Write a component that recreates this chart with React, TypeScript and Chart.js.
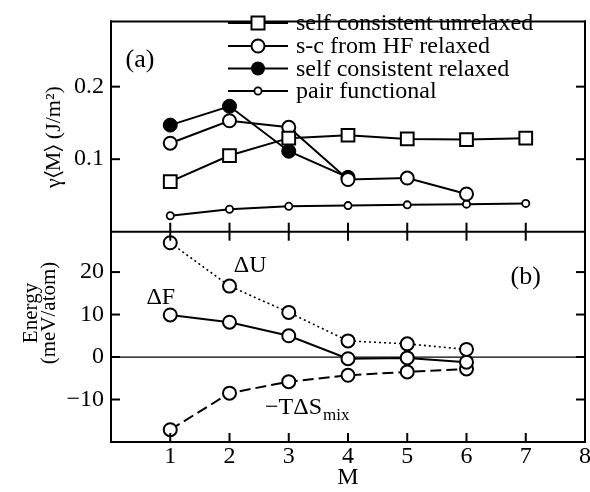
import React, { useEffect, useRef } from 'react';
import { Chart, registerables } from 'chart.js';

Chart.register(...registerables);

// ---- data ----
const mValues = [1, 2, 3, 4, 5, 6, 7];
const scUnrelaxed = [0.069, 0.105, 0.129, 0.133, 0.128, 0.127, 0.129];
const scFromHFRelaxed = [0.122, 0.153, 0.144, 0.072, 0.074, 0.052];
const scRelaxed = [0.147, 0.173, 0.111, 0.075];
const pairFunctional = [0.022, 0.031, 0.035, 0.036, 0.037, 0.038, 0.039];

const deltaU = [26.9, 16.7, 10.5, 3.8, 3.1, 1.8];
const deltaF = [9.9, 8.2, 5.0, -0.4, -0.2, -1.2];
const minusTdS = [-17.1, -8.5, -5.8, -4.3, -3.5, -2.8];

const xTickValues = [1, 2, 3, 4, 5, 6, 7, 8];
const xInnerTicks = [1, 2, 3, 4, 5, 6, 7];
const gammaTicks = [0.1, 0.2];
const energyTicks = [-10, 0, 10, 20];

const legendLabels = [
  'self consistent unrelaxed',
  's-c from HF relaxed',
  'self consistent relaxed',
  'pair functional',
];

const FONT = "'Liberation Serif', 'Times New Roman', serif";

const pts = (ys: number[]) => ys.map((y, i) => ({ x: mValues[i], y }));

const near = (v: number, list: number[]) => list.some((t) => Math.abs(t - v) < 1e-6);

const fmtEnergy = (v: number) => (v < 0 ? '\u2212' + Math.abs(v) : String(v));

const seg = (ctx: any, x0: number, y0: number, x1: number, y1: number) => {
  ctx.beginPath();
  ctx.moveTo(x0, y0);
  ctx.lineTo(x1, y1);
  ctx.stroke();
};

const zeroLinePlugin = {
  id: 'zeroLinePlugin',
  beforeDatasetsDraw(chart: any) {
    const { ctx, chartArea: a, scales } = chart;
    const yb = scales.yBot;
    ctx.save();
    ctx.setLineDash([]);
    ctx.strokeStyle = '#000';
    ctx.lineWidth = 1.2;
    seg(ctx, a.left, yb.getPixelForValue(0), a.right, yb.getPixelForValue(0));
    ctx.restore();
  },
};

const framePlugin = {
  id: 'framePlugin',
  afterDraw(chart: any) {
    const { ctx, chartArea: a, scales } = chart;
    const x = scales.x;
    const yt = scales.yTop;
    const yb = scales.yBot;
    const L = a.left;
    const R = a.right;
    const T = yt.top;
    const B = yb.bottom;
    const mid = yt.bottom;
    const tl = 9;
    ctx.save();
    ctx.setLineDash([]);
    ctx.strokeStyle = '#000';
    ctx.fillStyle = '#000';
    ctx.lineWidth = 2;
    ctx.lineCap = 'square';
    // frame
    seg(ctx, L, T, R, T);
    seg(ctx, R, T, R, B);
    seg(ctx, R, B, L, B);
    seg(ctx, L, B, L, T);
    seg(ctx, L, mid, R, mid);
    ctx.lineCap = 'butt';
    xInnerTicks.forEach((m) => {
      const px = x.getPixelForValue(m);
      seg(ctx, px, mid - tl, px, mid + tl);
      seg(ctx, px, B, px, B - tl);
    });
    gammaTicks.forEach((v) => {
      const py = yt.getPixelForValue(v);
      seg(ctx, L, py, L + tl, py);
      seg(ctx, R, py, R - tl, py);
    });
    energyTicks.forEach((v) => {
      const py = yb.getPixelForValue(v);
      seg(ctx, L, py, L + tl, py);
      seg(ctx, R, py, R - tl, py);
    });

    // legend
    const lx0 = 228;
    const lx1 = 288;
    const lxm = (lx0 + lx1) / 2;
    const rows = [23, 46, 68.5, 91];
    ctx.font = `24px ${FONT}`;
    ctx.textAlign = 'left';
    ctx.textBaseline = 'alphabetic';
    rows.forEach((ry, i) => {
      ctx.lineWidth = 2;
      ctx.strokeStyle = '#000';
      seg(ctx, lx0, ry, lx1, ry);
      ctx.beginPath();
      if (i === 0) {
        ctx.fillStyle = '#fff';
        ctx.rect(lxm - 6.5, ry - 6.5, 13, 13);
        ctx.fill();
        ctx.stroke();
      } else if (i === 1) {
        ctx.fillStyle = '#fff';
        ctx.arc(lxm, ry, 6.5, 0, Math.PI * 2);
        ctx.fill();
        ctx.stroke();
      } else if (i === 2) {
        ctx.fillStyle = '#000';
        ctx.arc(lxm, ry, 7, 0, Math.PI * 2);
        ctx.fill();
      } else {
        ctx.fillStyle = '#fff';
        ctx.lineWidth = 1.8;
        ctx.arc(lxm, ry, 3.6, 0, Math.PI * 2);
        ctx.fill();
        ctx.stroke();
      }
      ctx.fillStyle = '#000';
      ctx.fillText(legendLabels[i], 296, ry + 7);
    });

    // panel labels & annotations
    ctx.fillStyle = '#000';
    ctx.textAlign = 'center';
    ctx.textBaseline = 'middle';
    ctx.font = `26px ${FONT}`;
    ctx.fillText('(a)', x.getPixelForValue(0.49), yt.getPixelForValue(0.236));
    ctx.fillText('(b)', x.getPixelForValue(7.0), yb.getPixelForValue(18.9));
    ctx.font = `24px ${FONT}`;
    ctx.fillText('\u0394U', x.getPixelForValue(2.35), yb.getPixelForValue(21.6));
    ctx.fillText('\u0394F', x.getPixelForValue(0.84), yb.getPixelForValue(13.9));
    ctx.textAlign = 'left';
    ctx.textBaseline = 'alphabetic';
    const tx = x.getPixelForValue(2.6);
    const ty = yb.getPixelForValue(-13.4);
    const main = '\u2212T\u0394S';
    ctx.fillText(main, tx, ty);
    const w = ctx.measureText(main).width;
    ctx.font = `17px ${FONT}`;
    ctx.fillText('mix', tx + w + 1, ty + 6);

    // y axis titles
    ctx.textAlign = 'center';
    ctx.textBaseline = 'middle';
    ctx.font = `22px ${FONT}`;
    ctx.save();
    ctx.translate(54, 137);
    ctx.rotate(-Math.PI / 2);
    ctx.fillText('\u03B3\u2329M\u232A (J/m\u00B2)', 0, 0);
    ctx.restore();
    ctx.font = `21px ${FONT}`;
    ctx.save();
    ctx.translate(31, 313);
    ctx.rotate(-Math.PI / 2);
    ctx.fillText('Energy', 0, 0);
    ctx.restore();
    ctx.save();
    ctx.translate(49, 313);
    ctx.rotate(-Math.PI / 2);
    ctx.fillText('(meV/atom)', 0, 0);
    ctx.restore();

    ctx.restore();
  },
};

export default function App() {
  const ref = useRef<HTMLCanvasElement | null>(null);

  useEffect(() => {
    if (!ref.current) return;
    const tickFont = { family: FONT, size: 24 };
    const open = {
      borderColor: '#000',
      pointStyle: 'circle',
      pointRadius: 6.5,
      pointBorderWidth: 2,
      pointBackgroundColor: '#fff',
      pointBorderColor: '#000',
    };
    const chart = new Chart(ref.current, {
      type: 'line',
      data: {
        datasets: [
          {
            ...open,
            label: legendLabels[0],
            data: pts(scUnrelaxed),
            yAxisID: 'yTop',
            borderWidth: 2,
            pointStyle: 'rect',
            pointRadius: 9,
          },
          {
            ...open,
            label: legendLabels[1],
            data: pts(scFromHFRelaxed),
            yAxisID: 'yTop',
            borderWidth: 2,
          },
          {
            ...open,
            label: legendLabels[2],
            data: pts(scRelaxed),
            yAxisID: 'yTop',
            borderWidth: 2,
            pointRadius: 7,
            pointBorderWidth: 1,
            pointBackgroundColor: '#000',
          },
          {
            ...open,
            label: legendLabels[3],
            data: pts(pairFunctional),
            yAxisID: 'yTop',
            borderWidth: 2,
            pointRadius: 3.6,
            pointBorderWidth: 1.8,
          },
          {
            ...open,
            label: '\u0394U',
            data: pts(deltaU),
            yAxisID: 'yBot',
            borderWidth: 1.6,
            borderDash: [2, 3],
          },
          {
            ...open,
            label: '\u0394F',
            data: pts(deltaF),
            yAxisID: 'yBot',
            borderWidth: 2,
          },
          {
            ...open,
            label: '\u2212T\u0394S mix',
            data: pts(minusTdS),
            yAxisID: 'yBot',
            borderWidth: 2,
            borderDash: [11, 5],
          },
        ],
      },
      options: {
        animation: false,
        responsive: false,
        maintainAspectRatio: false,
        devicePixelRatio: 1,
        layout: { padding: { left: 0, top: 13, right: 15, bottom: 0 } },
        plugins: {
          legend: { display: false },
          tooltip: { enabled: false },
          title: { display: false },
        },
        scales: {
          x: {
            type: 'linear',
            position: 'bottom',
            min: 0,
            max: 8,
            grid: { display: false, drawTicks: false },
            border: { display: false },
            afterBuildTicks: (s: any) => {
              s.ticks = [0, ...xTickValues].map((v) => ({ value: v }));
            },
            ticks: {
              autoSkip: false,
              maxRotation: 0,
              padding: 0,
              color: '#000',
              font: tickFont,
              callback: (v: any) => (near(Number(v), xTickValues) ? String(v) : ''),
            },
            title: {
              display: true,
              text: 'M',
              color: '#000',
              font: tickFont,
              padding: { top: 0, bottom: 0 },
            },
            afterFit: (s: any) => {
              s.height = 50;
            },
          },
          yBot: {
            type: 'linear',
            position: 'left',
            stack: 'panels',
            stackWeight: 1,
            min: -20,
            max: 29.5,
            grid: { display: false, drawTicks: false },
            border: { display: false },
            afterBuildTicks: (s: any) => {
              s.ticks = energyTicks.map((v) => ({ value: v }));
            },
            ticks: {
              autoSkip: false,
              padding: 7,
              color: '#000',
              font: tickFont,
              callback: (v: any) => (near(Number(v), energyTicks) ? fmtEnergy(Number(v)) : ''),
            },
            afterFit: (s: any) => {
              s.width = 111;
            },
          },
          yTop: {
            type: 'linear',
            position: 'left',
            stack: 'panels',
            stackWeight: 1,
            min: 0,
            max: 0.29,
            grid: { display: false, drawTicks: false },
            border: { display: false },
            afterBuildTicks: (s: any) => {
              s.ticks = gammaTicks.map((v) => ({ value: v }));
            },
            ticks: {
              autoSkip: false,
              padding: 7,
              color: '#000',
              font: tickFont,
              callback: (v: any) => (near(Number(v), gammaTicks) ? Number(v).toFixed(1) : ''),
            },
            afterFit: (s: any) => {
              s.width = 111;
            },
          },
        },
      } as any,
      plugins: [zeroLinePlugin, framePlugin],
    });
    return () => chart.destroy();
  }, []);

  return (
    <div
      style={{
        position: 'absolute',
        left: 0,
        top: 0,
        width: 590,
        height: 492,
        overflow: 'hidden',
        background: '#fff',
      }}
    >
      <canvas ref={ref} width={600} height={492} style={{ display: 'block', width: 600, height: 492 }} />
    </div>
  );
}
